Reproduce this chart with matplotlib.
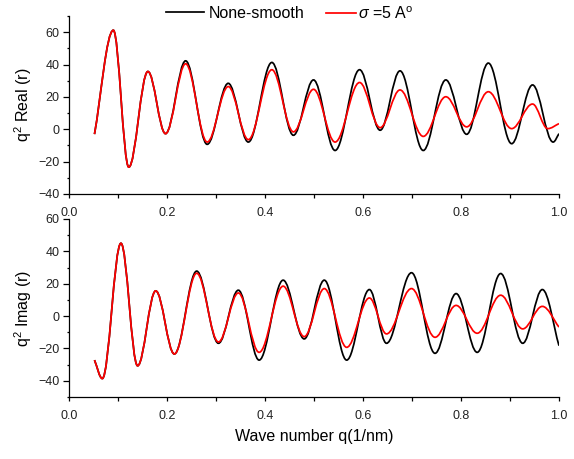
import matplotlib
matplotlib.use("Agg")
import matplotlib.pyplot as plt
from matplotlib.path import Path
from matplotlib.patches import PathPatch
from matplotlib.lines import Line2D
from matplotlib.ticker import MultipleLocator, FormatStrFormatter

plt.rcParams['font.family'] = ['Liberation Sans', 'DejaVu Sans']
plt.rcParams['mathtext.fontset'] = 'custom'
plt.rcParams['mathtext.rm'] = 'Liberation Sans'
plt.rcParams['mathtext.it'] = 'Liberation Sans:italic'

# ---- data (start point, extrema, end point) ----
real_black_q = [0.052, 0.0905, 0.122, 0.161, 0.197, 0.238, 0.282, 0.325, 0.366, 0.414,
                0.458, 0.499, 0.543, 0.593, 0.635, 0.6755, 0.723, 0.769, 0.8116, 0.8558,
                0.9034, 0.946, 0.988, 1.0]
real_black_v = [-3.0, 61.2, -23.4, 35.7, -2.7, 42.3, -9.3, 28.4, -7.9, 41.3,
                -3.7, 30.5, -13.1, 36.8, -0.6, 36.1, -13.1, 30.5, -3.1, 40.9,
                -8.9, 27.4, -7.9, -2.7]
real_red_q = [0.052, 0.0905, 0.122, 0.161, 0.197, 0.238, 0.282, 0.325, 0.366, 0.414,
              0.458, 0.499, 0.543, 0.593, 0.635, 0.6755, 0.723, 0.769, 0.8116, 0.8558,
              0.9034, 0.946, 0.977, 1.0]
real_red_v = [-3.0, 61.2, -23.4, 35.7, -2.7, 40.5, -7.9, 26.4, -6.4, 36.8,
              -1.6, 24.7, -7.9, 28.9, 1.0, 24.3, -4.4, 20.1, 1.5, 23.2,
              0.4, 15.6, 0.4, 3.5]

imag_black_q = [0.052, 0.068, 0.106, 0.140, 0.177, 0.215, 0.2606, 0.305, 0.3456, 0.388,
                0.437, 0.480, 0.521, 0.5667, 0.613, 0.648, 0.699, 0.747, 0.790, 0.833,
                0.881, 0.926, 0.966, 1.0]
imag_black_v = [-27.2, -38.6, 45.0, -30.7, 15.6, -23.4, 27.8, -16.8, 16.0, -27.2,
                22.2, -14.1, 22.2, -27.2, 16.4, -16.8, 26.8, -23.0, 13.9, -22.4,
                26.3, -16.8, 16.4, -18.3]
imag_red_q = imag_black_q
imag_red_v = [-27.2, -38.6, 45.0, -30.7, 15.6, -23.4, 26.5, -16.0, 14.3, -22.4,
              18.5, -12.7, 17.0, -19.3, 11.2, -11.0, 17.0, -13.1, 6.6, -10.6,
              12.9, -7.9, 6.0, -6.8]

x_ticks = [0.0, 0.2, 0.4, 0.6, 0.8, 1.0]
y_ticks = [-40, -20, 0, 20, 40, 60]
legend_labels = ['None-smooth', r'$\sigma$ =5 A$^{\mathrm{o}}$']


def smooth_path(xs, ys, k=0.363):
    verts = [(xs[0], ys[0])]
    codes = [Path.MOVETO]
    n = len(xs)
    for i in range(n - 1):
        x0, y0, x1, y1 = xs[i], ys[i], xs[i + 1], ys[i + 1]
        d = x1 - x0
        if i == 0:
            c1 = (x0 + d / 3, y0 + (y1 - y0) / 3)
        else:
            c1 = (x0 + k * d, y0)
        if i == n - 2:
            c2 = (x1 - d / 3, y1 - (y1 - y0) / 3)
        else:
            c2 = (x1 - k * d, y1)
        verts += [c1, c2, (x1, y1)]
        codes += [Path.CURVE4] * 3
    return Path(verts, codes)


fig = plt.figure(figsize=(5.74, 4.59), dpi=100)
ax1 = fig.add_axes([69 / 574, 1 - 194 / 459, 490 / 574, 178 / 459])
ax2 = fig.add_axes([69 / 574, 1 - 397 / 459, 490 / 574, 178 / 459])

lw = 1.25
for ax, (bq, bv, rq, rv), ylim, ylab in [
        (ax1, (real_black_q, real_black_v, real_red_q, real_red_v), (-40, 70), r'q$^2$ Real (r)'),
        (ax2, (imag_black_q, imag_black_v, imag_red_q, imag_red_v), (-50, 60), r'q$^2$ Imag (r)')]:
    ax.add_patch(PathPatch(smooth_path(bq, bv), fill=False, edgecolor='black', lw=lw))
    ax.add_patch(PathPatch(smooth_path(rq, rv), fill=False, edgecolor='red', lw=lw))
    ax.set_xlim(0.0, 1.0)
    ax.set_ylim(*ylim)
    ax.set_xticks(x_ticks)
    ax.set_yticks(y_ticks)
    ax.xaxis.set_minor_locator(MultipleLocator(0.1))
    ax.yaxis.set_minor_locator(MultipleLocator(10))
    ax.xaxis.set_major_formatter(FormatStrFormatter('%.1f'))
    for s in ['top', 'right']:
        ax.spines[s].set_visible(False)
    for s in ['left', 'bottom']:
        ax.spines[s].set_linewidth(0.9)
    ax.tick_params(which='both', direction='out', width=0.9, labelsize=9,
                   labelcolor='#222222')
    ax.tick_params(axis='x', which='major', length=3.2, pad=6)
    ax.tick_params(axis='x', which='minor', length=2.6)
    ax.tick_params(axis='y', which='major', length=4, pad=3)
    ax.tick_params(axis='y', which='minor', length=1.8)
    ax.set_ylabel(ylab, fontsize=11.5, labelpad=3)

ax2.set_xlabel('Wave number q(1/nm)', fontsize=11.5, labelpad=5)

leg_y = 1 - 13.3 / 459
leg1 = fig.legend([Line2D([], [], color='black', lw=lw)], legend_labels[:1],
                  loc='center left', bbox_to_anchor=(166 / 574, leg_y),
                  frameon=False, fontsize=11.5, handlelength=2.4, handletextpad=0.3,
                  borderaxespad=0, borderpad=0)
leg2 = fig.legend([Line2D([], [], color='red', lw=lw)], legend_labels[1:],
                  loc='center left', bbox_to_anchor=(326 / 574, leg_y),
                  frameon=False, fontsize=11.5, handlelength=1.85, handletextpad=0.15,
                  borderaxespad=0, borderpad=0)

fig.savefig('out.png', dpi=100)
